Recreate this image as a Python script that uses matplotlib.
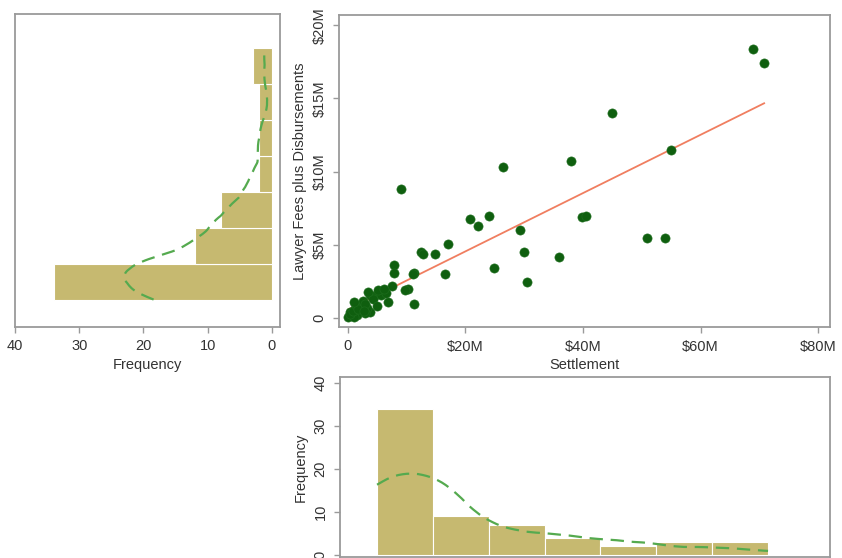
"""Settlement vs lawyer fees: scatter with fit line plus marginal histograms."""
import numpy as np
import matplotlib

matplotlib.use("Agg")
import matplotlib.pyplot as plt  # noqa: E402
from matplotlib.ticker import FuncFormatter  # noqa: E402

plt.rcParams["font.family"] = ["Liberation Sans", "DejaVu Sans"]

# values in $M (the cluster near the origin is partly hidden)
settlement = [68.9, 70.8, 44.9, 55.0, 37.9, 26.4, 9.1, 20.7, 22.2, 24.0, 29.3, 39.8,
              40.5, 50.9, 53.9, 17.0, 14.8, 12.5, 29.9, 35.9, 24.9, 16.5, 30.5, 11.2,
              7.8, 7.8, 7.5, 10.3, 9.8, 11.2, 6.9, 5.9, 3.8, 4.4, 3.8, 3.2, 2.2, 1.3,
              0.7, 0.1, 1.6, 1.0, 0.4, 2.9, 5.6, 6.5, 0.3, 0.8, 1.4, 1.8, 2.5, 3.0,
              2.7, 4.2, 5.2, 6.2, 4.9, 1.0, 3.4, 11.0, 12.8]
fees = [18.4, 17.4, 14.0, 11.5, 10.75, 10.3, 8.8, 6.8, 6.3, 7.0, 6.0, 6.9,
        7.0, 5.5, 5.5, 5.1, 4.4, 4.5, 4.5, 4.2, 3.4, 3.0, 2.5, 3.1,
        3.6, 3.1, 2.2, 2.0, 1.9, 1.0, 1.1, 1.7, 1.6, 1.5, 0.45, 0.7, 0.8, 0.6,
        0.35, 0.1, 0.2, 0.1, 0.45, 0.35, 1.6, 1.7, 0.3, 0.5, 0.9, 0.6, 1.2, 1.0,
        0.5, 1.3, 1.9, 2.0, 0.8, 1.1, 1.8, 3.0, 4.4]

# histogram frequencies (7 bins each)
settle_counts = [34, 9, 7, 4, 2, 3, 3]
fee_counts = [34, 12, 8, 2, 2, 2, 3]

BAR = "#c6b970"
KDE = "#55aa4f"
SPINE = "#9a9a9a"
TXT = "#333333"


def kde_freq(values, grid, n_bins, adjust=1.15):
    """Epanechnikov kernel density (Stata style), scaled to bar frequencies."""
    v = np.asarray(values)
    n = v.size
    q75, q25 = np.percentile(v, [75, 25])
    h = adjust * 0.9 * min(v.std(ddof=1), (q75 - q25) / 1.349) * n ** -0.2
    z = (grid[:, None] - v[None, :]) / h
    k = np.where(np.abs(z) < np.sqrt(5), 0.75 * (1 - z ** 2 / 5) / np.sqrt(5), 0.0)
    dens = k.sum(axis=1) / (n * h)
    return dens * n * (v.max() - v.min()) / n_bins


def style(ax):
    for sp in ax.spines.values():
        sp.set_color(SPINE)
        sp.set_linewidth(1.3)
    ax.tick_params(direction="out", length=4, width=1, color=SPINE,
                   labelsize=10.5, labelcolor=TXT, pad=5)


money = FuncFormatter(lambda v, _: "0" if v == 0 else f"${v:.0f}M")

fig = plt.figure(figsize=(8.42, 5.58), dpi=100)
W, H = 842, 558


def px_axes(left, top, right, bottom):
    return fig.add_axes([left / W, 1 - bottom / H, (right - left) / W, (bottom - top) / H])


# scatter
ax = px_axes(339, 15, 830, 327)
style(ax)
ax.scatter(settlement, fees, s=44, color="#0f5f0f", edgecolors="#1f6f1f",
           linewidths=0.4, zorder=3)
slope, icept = np.polyfit(settlement, fees, 1)
xs = np.array([min(settlement), max(settlement)])
ax.plot(xs, slope * xs + icept, color="#f07e60", lw=1.3, zorder=2)
ax.set_xlim(-1.5, 82.0)
ax.set_ylim(-0.6, 20.7)
ax.set_xticks([0, 20, 40, 60, 80])
ax.set_yticks([0, 5, 10, 15, 20])
ax.xaxis.set_major_formatter(money)
ax.yaxis.set_major_formatter(money)
plt.setp(ax.get_yticklabels(), rotation=90, va="center")
ax.set_xlabel("Settlement", fontsize=10.5, color=TXT, labelpad=3)
ax.set_ylabel("Lawyer Fees plus Disbursements", fontsize=10.5, color=TXT, labelpad=4)

# left histogram: fees, horizontal and mirrored
axl = px_axes(15, 14, 280, 327)
style(axl)
f_edges = np.linspace(min(fees), max(fees), len(fee_counts) + 1)
axl.barh(f_edges[:-1], fee_counts, height=np.diff(f_edges), align="edge",
         color=BAR, edgecolor="white", linewidth=0.8)
fg = np.linspace(min(fees), max(fees), 200)
axl.plot(kde_freq(fees, fg, len(fee_counts)), fg, color=KDE, lw=1.6, dashes=(6, 3.5))
axl.set_xlim(40, -1.25)
axl.set_ylim(-1.9, 20.9)
axl.set_xticks([40, 30, 20, 10, 0])
axl.set_yticks([])
axl.set_xlabel("Frequency", fontsize=10.5, color=TXT, labelpad=3)

# bottom histogram: settlement
axb = px_axes(340, 377, 830, 557)
style(axb)
s_edges = np.linspace(min(settlement), max(settlement), len(settle_counts) + 1)
axb.bar(s_edges[:-1], settle_counts, width=np.diff(s_edges), align="edge",
        color=BAR, edgecolor="white", linewidth=0.8)
sg = np.linspace(min(settlement), max(settlement), 200)
axb.plot(sg, kde_freq(settlement, sg, len(settle_counts)), color=KDE, lw=1.6, dashes=(6, 3.5))
axb.set_xlim(-6.6, 82.0)
axb.set_ylim(-0.47, 41.4)
axb.set_xticks([])
axb.set_yticks([0, 10, 20, 30, 40])
plt.setp(axb.get_yticklabels(), rotation=90, va="center")
axb.set_ylabel("Frequency", fontsize=10.5, color=TXT, labelpad=4)

fig.savefig("out.png", dpi=100)
